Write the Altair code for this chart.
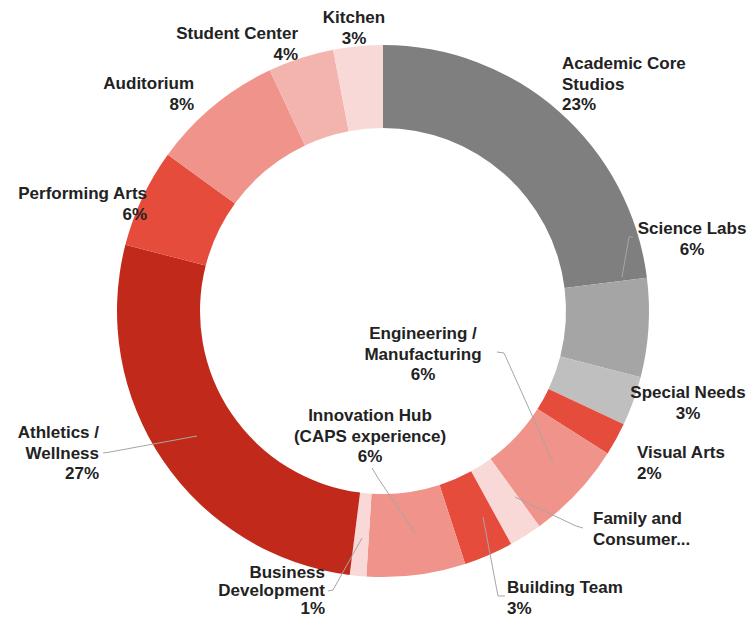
import altair as alt
import pandas as pd

# ---- data ----
categories = ["Academic Core Studios", "Science Labs", "Special Needs", "Visual Arts",
              "Engineering / Manufacturing", "Family and Consumer Sciences", "Building Team",
              "Innovation Hub (CAPS experience)", "Business Development", "Athletics / Wellness",
              "Performing Arts", "Auditorium", "Student Center", "Kitchen"]
values = [23, 6, 3, 2, 6, 2, 3, 6, 1, 27, 6, 8, 4, 3]
colors = ["#7f7f7f", "#a5a5a5", "#bfbfbf", "#e64c3c", "#f0938a", "#f9d9d7", "#e64c3c",
          "#f0938a", "#f9d9d7", "#c1291a", "#e64c3c", "#f0938a", "#f4b4ae", "#f9d9d7"]
label_lines = [["Academic Core", "Studios"], ["Science Labs"], ["Special Needs"], ["Visual Arts"],
               ["Engineering /", "Manufacturing"], ["Family and", "Consumer..."], ["Building Team"],
               ["Innovation Hub", "(CAPS experience)"], ["Business", "Development"],
               ["Athletics /", "Wellness"], ["Performing Arts"], ["Auditorium"], ["Student Center"],
               ["Kitchen"]]
show_pct = [True, True, True, True, True, False, True, True, True, True, True, True, True, True]

# ---- layout (annotation placement, pixels) ----
W, H = 739, 610
CX, CY = 375, 303
R_OUT, R_IN = 266, 183
label_x = [554, 684, 680, 629, 415, 585, 499, 362, 317, 91, 139, 186, 290, 346]
label_y = [61, 226, 390, 450, 331, 516, 585, 413, 570, 430, 191, 81, 31, 15]
label_align = ["left", "center", "center", "left", "center", "left", "left", "center",
               "right", "right", "right", "right", "right", "center"]
label_lh = [20.5, 20.5, 20.5, 20.5, 20.5, 20.5, 20.5, 20.5, 18, 20.5, 20.5, 20.5, 20.5, 20.5]
leaders = {
    "Science Labs": [(625, 229), (621, 229), (614, 269)],
    "Engineering": [(489, 344), (496, 345), (545, 454)],
    "Family": [(575, 520), (568, 518), (507, 489)],
    "Building": [(497, 588), (490, 588), (475, 509)],
    "Innovation": [(364, 460), (370, 470), (407, 525)],
    "Business": [(320, 583), (325, 582), (354, 530)],
    "Athletics": [(95, 445), (102, 444), (189, 428)],
}

df = pd.DataFrame({"category": categories, "value": values, "color": colors,
                   "idx": list(range(len(categories)))})

texts = []
for i in range(len(categories)):
    t = "\n".join(label_lines[i] + ([f"{values[i]}%"] if show_pct[i] else []))
    texts.append(t)
lab = pd.DataFrame({"text": texts, "lx": label_x, "ly": label_y, "align": label_align,
                    "lh": label_lh})

rows = []
for g, pts in leaders.items():
    for k, (x, y) in enumerate(pts):
        rows.append({"g": g, "k": k, "x": x, "y": y})
lead = pd.DataFrame(rows)

arcs = alt.Chart(df).mark_arc(outerRadius=R_OUT, innerRadius=R_IN, strokeWidth=0).encode(
    theta=alt.Theta("value:Q", stack=True),
    order=alt.Order("idx:Q"),
    color=alt.Color("color:N", scale=None, legend=None),
    x=alt.value(CX), y=alt.value(CY),
)

lines = alt.Chart(lead).mark_line(color="#a6a6a6", strokeWidth=1).encode(
    x=alt.X("x:Q", scale=None, axis=None),
    y=alt.Y("y:Q", scale=None, axis=None),
    detail="g:N",
    order="k:Q",
)

layers = [arcs, lines]
for (al, lh), sub in lab.groupby(["align", "lh"]):
    layers.append(
        alt.Chart(sub.drop(columns=["lh"])).mark_text(
            align=al, baseline="alphabetic", lineBreak="\n", lineHeight=float(lh),
            font="Liberation Sans", fontSize=17, fontWeight="bold", color="#222222").encode(
            x=alt.X("lx:Q", scale=None, axis=None),
            y=alt.Y("ly:Q", scale=None, axis=None),
            text="text:N",
        )
    )

chart = alt.layer(*layers).properties(
    width=W, height=H, autosize="none", padding=0
).configure_view(stroke=None)

chart.save("out.html", embed_options={"renderer": "svg", "actions": False})
